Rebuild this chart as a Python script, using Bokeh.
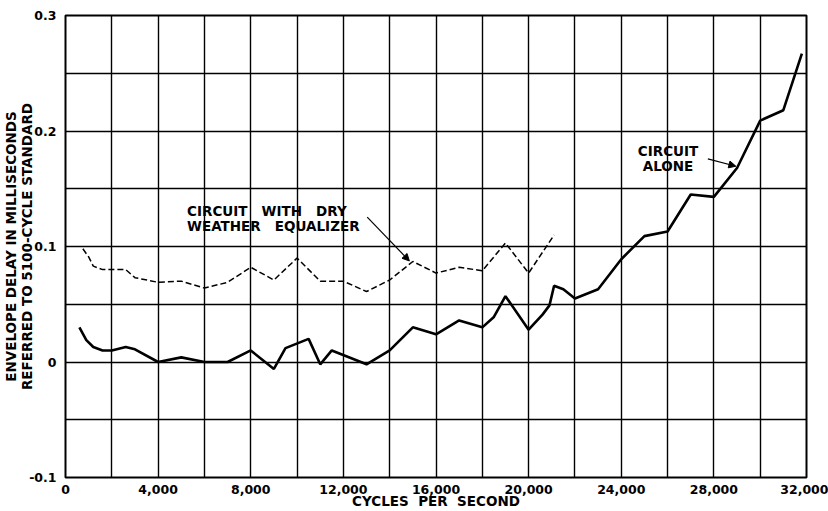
from bokeh.plotting import figure
from bokeh.models import Range1d, FixedTicker, Label, Arrow, NormalHead
from bokeh.embed import file_html
from bokeh.resources import INLINE

# ---- data ----
alone_x = [600, 900, 1200, 1600, 2000, 2600, 3000, 4000, 5000, 6000, 7000, 8000,
           9000, 9500, 10500, 11000, 11500, 13000, 14000, 15000, 16000, 17000,
           18000, 18500, 19000, 20000, 20600, 20900, 21100, 21500, 22000, 23000,
           24000, 25000, 26000, 27000, 28000, 29000, 30000, 31000, 31800]
alone_y = [0.030, 0.019, 0.013, 0.010, 0.010, 0.013, 0.011, 0.000, 0.004, 0.000,
           0.000, 0.010, -0.006, 0.012, 0.020, -0.002, 0.010, -0.002, 0.010,
           0.030, 0.024, 0.036, 0.030, 0.039, 0.057, 0.028, 0.041, 0.049, 0.066,
           0.063, 0.055, 0.063, 0.089, 0.109, 0.113, 0.145, 0.143, 0.168, 0.209,
           0.218, 0.267]

dry_x = [750, 1000, 1200, 1600, 2600, 3000, 4000, 5000, 6000, 7000, 8000, 9000,
         10000, 11000, 12000, 13000, 14000, 15000, 16000, 17000, 18000, 19000,
         20000, 21100]
dry_y = [0.098, 0.091, 0.083, 0.080, 0.080, 0.073, 0.069, 0.070, 0.064, 0.069,
         0.082, 0.071, 0.090, 0.070, 0.070, 0.061, 0.071, 0.087, 0.077, 0.082,
         0.079, 0.103, 0.077, 0.110]

x_ticks = [0, 4000, 8000, 12000, 16000, 20000, 24000, 28000, 32000]
x_tick_labels = ["0", "4,000", "8,000", "12,000", "16,000", "20,000", "24,000",
                 "28,000", "32,000"]
x_minor = [2000, 6000, 10000, 14000, 18000, 22000, 26000, 30000]
y_ticks = [-0.1, 0.0, 0.1, 0.2, 0.3]
y_tick_labels = ["-0.1", "0", "0.1", "0.2", "0.3"]
y_minor = [-0.05, 0.05, 0.15, 0.25]

x_title = "CYCLES\u00a0\u00a0PER\u00a0\u00a0SECOND"
y_title = "ENVELOPE DELAY IN MILLISECONDS\nREFERRED TO 5100-CYCLE STANDARD"

FONT = "DejaVu Sans"
SP = "\u00a0\u00a0\u00a0"

p = figure(width=828, height=511, output_backend="svg", toolbar_location=None,
           x_range=Range1d(0, 32000), y_range=Range1d(-0.1, 0.3),
           min_border_left=62, min_border_right=22, min_border_top=15,
           min_border_bottom=34)
p.background_fill_color = "white"
p.border_fill_color = "white"
p.outline_line_color = "black"
p.outline_line_width = 2

p.xaxis.ticker = FixedTicker(ticks=x_ticks, minor_ticks=x_minor)
p.yaxis.ticker = FixedTicker(ticks=y_ticks, minor_ticks=y_minor)
p.xaxis.major_label_overrides = {t: l for t, l in zip(x_ticks, x_tick_labels)}
p.yaxis.major_label_overrides = {t: l for t, l in zip(y_ticks, y_tick_labels)}

for ax in (p.xaxis, p.yaxis):
    ax.major_tick_line_color = None
    ax.minor_tick_line_color = None
    ax.axis_line_color = None
    ax.major_label_text_font = FONT
    ax.major_label_text_font_style = "bold"
    ax.major_label_text_font_size = "12.5px"
    ax.major_label_text_color = "black"
    ax.axis_label_text_font = FONT
    ax.axis_label_text_font_style = "bold"
    ax.axis_label_text_font_size = "13.5px"
    ax.axis_label_text_color = "black"

p.xaxis.major_label_standoff = 1
p.xaxis.axis_label = x_title
p.xaxis.axis_label_standoff = -4
p.xaxis.axis_label_text_line_height = 0.9
p.yaxis.major_label_standoff = 3
p.yaxis.axis_label = y_title
p.yaxis.axis_label_standoff = -9
p.yaxis.axis_label_text_line_height = 1.0

for g in (p.xgrid, p.ygrid):
    g.grid_line_color = "black"
    g.grid_line_width = 1.4
    g.minor_grid_line_color = "black"
    g.minor_grid_line_width = 1.4

p.line(alone_x, alone_y, line_color="black", line_width=2.6)
p.line(dry_x, dry_y, line_color="black", line_width=1.5, line_dash="6 3")

def lab(txt, x, y, align="left", size="13.5px"):
    p.add_layout(Label(x=x, y=y, text=txt, text_font=FONT, text_font_style="bold",
                       text_font_size=size, text_align=align,
                       text_baseline="middle", text_color="black"))

# annotations
lab("CIRCUIT" + SP + "WITH" + SP + "DRY", 5250, 0.1305)
lab("WEATHER" + SP + "EQUALIZER", 5250, 0.1175)
lab("CIRCUIT", 26020, 0.1827, "center")
lab("ALONE", 26020, 0.1697, "center")

p.add_layout(Arrow(x_start=13030, y_start=0.1255, x_end=14850, y_end=0.0875,
                   line_color="black", line_width=1.2,
                   end=NormalHead(size=7, fill_color="black", line_color="black")))
p.add_layout(Arrow(x_start=27740, y_start=0.1758, x_end=28950, y_end=0.1695,
                   line_color="black", line_width=1.2,
                   end=NormalHead(size=7, fill_color="black", line_color="black")))

open("out.html", "w").write(file_html(p, INLINE))
